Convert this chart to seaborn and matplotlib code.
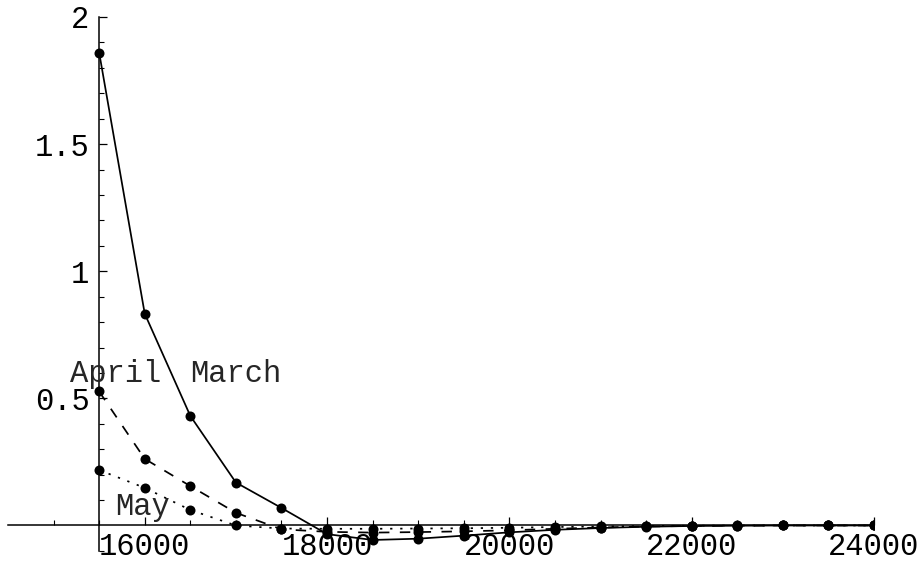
import matplotlib
matplotlib.use("Agg")
import matplotlib.pyplot as plt
from matplotlib.ticker import FixedLocator, FixedFormatter
import numpy as np
import pandas as pd
import seaborn as sns

# Wavelength grid and the three monthly curves
x_values = [15500, 16000, 16500, 17000, 17500, 18000, 18500, 19000, 19500,
            20000, 20500, 21000, 21500, 22000, 22500, 23000, 23500, 24000]
march = [1.86, 0.833, 0.431, 0.169, 0.069, -0.034, -0.057, -0.052, -0.040,
         -0.027, -0.017, -0.010, -0.005, -0.002, -0.001, 0.0, 0.0, 0.0]
april = [0.527, 0.262, 0.155, 0.050, -0.015, -0.025, -0.028, -0.026, -0.023,
         -0.019, -0.013, -0.008, -0.004, -0.002, -0.001, 0.0, 0.0, 0.0]
may = [0.218, 0.148, 0.061, 0.0, -0.012, -0.013, -0.013, -0.012, -0.011,
       -0.009, -0.006, -0.004, -0.002, -0.001, 0.0, 0.0, 0.0, 0.0]

series_names = ["March", "April", "May"]
x_major = [16000, 18000, 20000, 22000, 24000]
x_major_labels = ["16000", "18000", "20000", "22000", "24000"]
y_major = [0.5, 1.0, 1.5, 2.0]
y_major_labels = ["0.5", "1", "1.5", "2"]

df = pd.DataFrame({
    "x": x_values * 3,
    "y": march + april + may,
    "month": [n for n in series_names for _ in x_values],
})

sns.set_style("white")
plt.rcParams["font.family"] = ["Liberation Mono", "DejaVu Sans Mono"]

fig = plt.figure(figsize=(9.23, 5.62), dpi=100)
W, H = 923, 562
left_px, right_px = 8, 874
top_px, bottom_px = 17, 550.9
ax = fig.add_axes([left_px / W, (H - bottom_px) / H,
                   (right_px - left_px) / W, (bottom_px - top_px) / H])

sns.lineplot(data=df, x="x", y="y", hue="month", style="month",
             hue_order=series_names, style_order=series_names,
             palette=["black"] * 3,
             dashes={"March": "", "April": (6.0, 6.0), "May": (1.3, 4.5)},
             markers={"March": "o", "April": "o", "May": "o"},
             markersize=7.2, markeredgewidth=0, linewidth=1.25,
             legend=False, ax=ax)

ax.set_xlim(14500, 24000)
ax.set_ylim(-0.1, 2.0)

# Axes cross at the first sample and at zero
for side in ("top", "right"):
    ax.spines[side].set_visible(False)
ax.spines["left"].set_position(("data", 15500))
ax.spines["bottom"].set_position(("data", 0))
for side in ("left", "bottom"):
    ax.spines[side].set_linewidth(1.1)
    ax.spines[side].set_color("black")

ax.xaxis.set_major_locator(FixedLocator(x_major))
ax.xaxis.set_major_formatter(FixedFormatter(x_major_labels))
ax.xaxis.set_minor_locator(FixedLocator(
    [v for v in np.arange(15000, 24001, 500) if v not in x_major]))
ax.yaxis.set_major_locator(FixedLocator(y_major))
ax.yaxis.set_major_formatter(FixedFormatter(y_major_labels))
ax.yaxis.set_minor_locator(FixedLocator(
    [round(v, 1) for v in np.arange(-0.1, 2.01, 0.1)
     if round(v, 1) not in y_major and abs(v) > 1e-9]))

ax.tick_params(axis="both", which="both", direction="in", color="black",
               left=True, bottom=True, labelsize=22, labelcolor="black")
ax.tick_params(axis="both", which="major", length=6, width=0.9)
ax.tick_params(axis="both", which="minor", length=3.5, width=0.8)
ax.tick_params(axis="x", which="major", pad=5)
ax.tick_params(axis="y", which="major", pad=7)
ax.set_xlabel("")
ax.set_ylabel("")
ax.grid(False)

# Curve labels
ax.text(15684, 0.566, "April", fontsize=22, ha="center", va="baseline")
ax.text(17000, 0.566, "March", fontsize=22, ha="center", va="baseline")
ax.text(15980, 0.041, "May", fontsize=22, ha="center", va="baseline")

fig.savefig("out.png", dpi=100)
